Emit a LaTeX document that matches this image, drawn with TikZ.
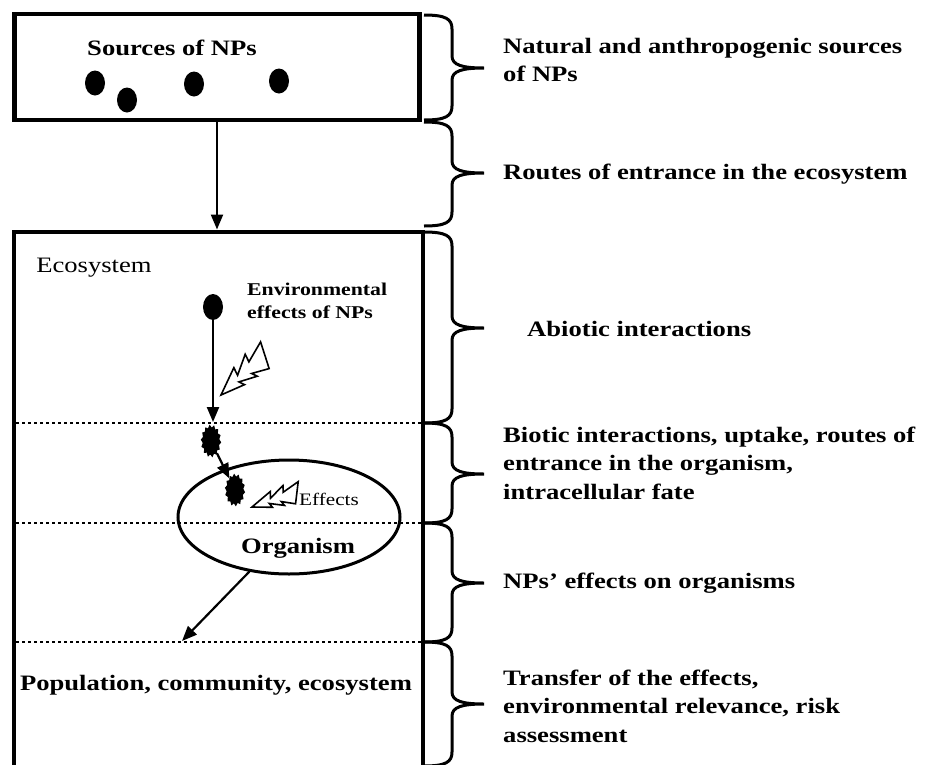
\documentclass[tikz,border=0pt]{standalone}
\usepackage{fontspec}
\setmainfont[FakeStretch=1.21]{Liberation Serif}
\usetikzlibrary{arrows.meta,shapes.geometric}
\newcommand{\mybrace}[3]{%
  \draw[brc] (424,#1) .. controls (446,#1) and (452,#1+4) .. (452,#1+14)
    -- (452,#2-12) .. controls (452,#2-3) and (462,#2) .. (484,#2)
    .. controls (462,#2) and (452,#2+3) .. (452,#2+12)
    -- (452,#3-14) .. controls (452,#3-4) and (446,#3) .. (424,#3);}
\tikzset{boltpic/.pic={\draw[bolt] (0,0) -- (0.48,-0.20) -- (0.44,-0.06) -- (0.78,-0.24)
   -- (0.74,-0.10) -- (1.12,-0.22) -- (0.92,0.22) -- (0.64,0.08) -- (0.68,0.18)
   -- (0.38,0.04) -- (0.42,0.14) -- cycle;}}
\begin{document}
\begin{tikzpicture}[x=1pt,y=-1pt,
  box/.style={draw, line width=4.5pt},
  np/.style={ellipse, fill=black, inner sep=0, minimum width=20pt, minimum height=25pt},
  arr/.style={line width=2.2pt, -{Triangle[length=15pt,width=12pt]}},
  sep/.style={line width=2.8pt, dash pattern=on 2.8pt off 3.2pt},
  brc/.style={line width=3pt},
  burst/.style={star, fill=black, draw=none, inner sep=0, minimum size=33pt, star points=14, star point ratio=1.22, xscale=0.62, transform shape},
  bolt/.style={draw, fill=white, line width=1.6pt, line join=miter},
  big/.style={font=\fontsize{22}{28.5}\selectfont\bfseries, inner sep=0},
  small/.style={font=\fontsize{17.5}{23}\selectfont, inner sep=0},
  rlbl/.style={big, align=left, anchor=west},
]
\useasboundingbox (0,0) rectangle (930,764);
% sources box
\node[box, minimum width=405pt, minimum height=106pt, inner sep=0] (src) at (217,67) {};
\node[big] (srclbl) at (172,48) {Sources of NPs};
\node[np] (n1) at (95,83) {};
\node[np] (n2) at (127,100) {};
\node[np] (n3) at (194,84) {};
\node[np] (n4) at (279,81) {};
% ecosystem box
\draw[line width=4.5pt] (14,766) -- (14,232) -- (423,232) -- (423,766);
\coordinate (ecotop) at (217,232);
\draw[arr, shorten >=2.5pt] (src) -- (ecotop);
\node[small, font=\fontsize{22}{26}\selectfont] (ecolbl) at (94,268) {Ecosystem};
% separators
\draw[sep] (16,423) -- (421,423);
\draw[sep] (16,523) -- (421,523);
\draw[sep] (16,642) -- (421,642);
% environmental effects
\node[np, minimum height=26pt] (env) at (213,307) {};
\node[small, font=\fontsize{18}{23}\selectfont\bfseries, align=left, anchor=west] (envlbl) at (247,301) {Environmental\\effects of NPs};
\coordinate (d1) at (213,422);
\draw[arr] (env) -- (d1);
\begin{scope}[shift={(221,395)}, x={(43pt,39pt)}, y={(39pt,-43pt)}]
  \pic {boltpic};
\end{scope}
% organism
\node[draw, ellipse, line width=3pt, minimum width=222pt, minimum height=114pt, inner sep=0] (org) at (289,517) {};
\node[big] (orglbl) at (298,548) {Organism};
\node[burst, rotate=8] (s1) at (211,441) {};
\node[burst, rotate=5] (s2) at (235,490) {};
\draw[arr] (s1) -- (s2);
\begin{scope}[shift={(252,507)}, x={(44pt,14pt)}, y={(14pt,-44pt)}]
  \pic {boltpic};
\end{scope}
\node[small] (efflbl) at (329,499) {Effects};
\coordinate (d3) at (182,641);
\draw[arr] (org.234) -- (d3);
\node[big] (poplbl) at (216,685) {Population, community, ecosystem};
% braces
\mybrace{15}{68}{120}
\mybrace{122}{173}{226}
\mybrace{232}{328}{423}
\mybrace{423}{474}{523}
\mybrace{523}{583}{642}
\mybrace{642}{704}{766}
% right labels
\node[rlbl] (r1) at (503,60) {Natural and anthropogenic sources\\of NPs};
\node[rlbl] (r2) at (503,174) {Routes of entrance in the ecosystem};
\node[rlbl] (r3) at (527,329) {Abiotic interactions};
\node[rlbl] (r4) at (503,463) {Biotic interactions, uptake, routes of\\entrance in the organism,\\intracellular fate};
\node[rlbl] (r5) at (503,583) {NPs’ effects on organisms};
\node[rlbl] (r6) at (503,706) {Transfer of the effects,\\environmental relevance, risk\\assessment};
\end{tikzpicture}
\end{document}
